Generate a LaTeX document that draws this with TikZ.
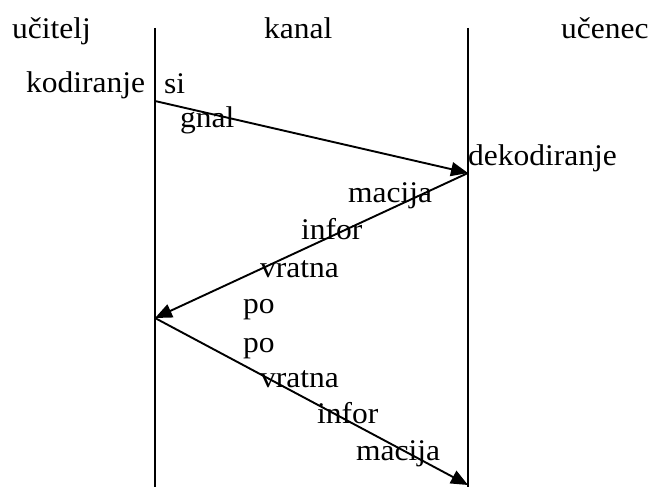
\documentclass[tikz,border=0pt]{standalone}
\usepackage{fontspec}
\setmainfont{Liberation Serif}
\usetikzlibrary{arrows.meta}

\begin{document}
\begin{tikzpicture}[x=1pt,y=-1pt,
	lbl/.style={anchor=base west, inner sep=0pt, font=\fontsize{30}{34}\selectfont, xscale=1.05, transform shape},
	rail/.style={line width=2.2pt},
	msg/.style={line width=1.9pt, -{Triangle[length=17pt,width=14pt]}}]
	\useasboundingbox (0,0) rectangle (652,487);
	% the two rails
	\coordinate (lt) at (155,28);
	\coordinate (lb) at (155,487);
	\coordinate (rt) at (468,28);
	\coordinate (rb) at (468,487);
	\draw[rail] (lt)--(lb);
	\draw[rail] (rt)--(rb);
	% headings
	\node[lbl] (ucitelj) at (12,38) {učitelj};
	\node[lbl] (kanal) at (264,38) {kanal};
	\node[lbl] (ucenec) at (561,38) {učenec};
	% messages
	\coordinate (s1) at (155,101);
	\coordinate (d1) at (468,173);
	\coordinate (p1) at (155,318);
	\coordinate (e1) at (468,485);
	\draw[msg] (s1)--(d1);
	\draw[msg] (d1)--(p1);
	\draw[msg] (p1)--(e1);
	% labels
	\node[lbl] (kod) at (26,92) {kodiranje};
	\node[lbl] (si) at (164,93) {si};
	\node[lbl] (gnal) at (180,127) {gnal};
	\node[lbl] (dekod) at (468,165) {dekodiranje};
	\node[lbl] (mac1) at (348,202) {macija};
	\node[lbl] (inf1) at (301,239) {infor};
	\node[lbl] (vra1) at (260,277) {vratna};
	\node[lbl] (po1) at (243,313) {po};
	\node[lbl] (po2) at (243,352) {po};
	\node[lbl] (vra2) at (260,387) {vratna};
	\node[lbl] (inf2) at (317,423) {infor};
	\node[lbl] (mac2) at (356,460) {macija};
\end{tikzpicture}
\end{document}
